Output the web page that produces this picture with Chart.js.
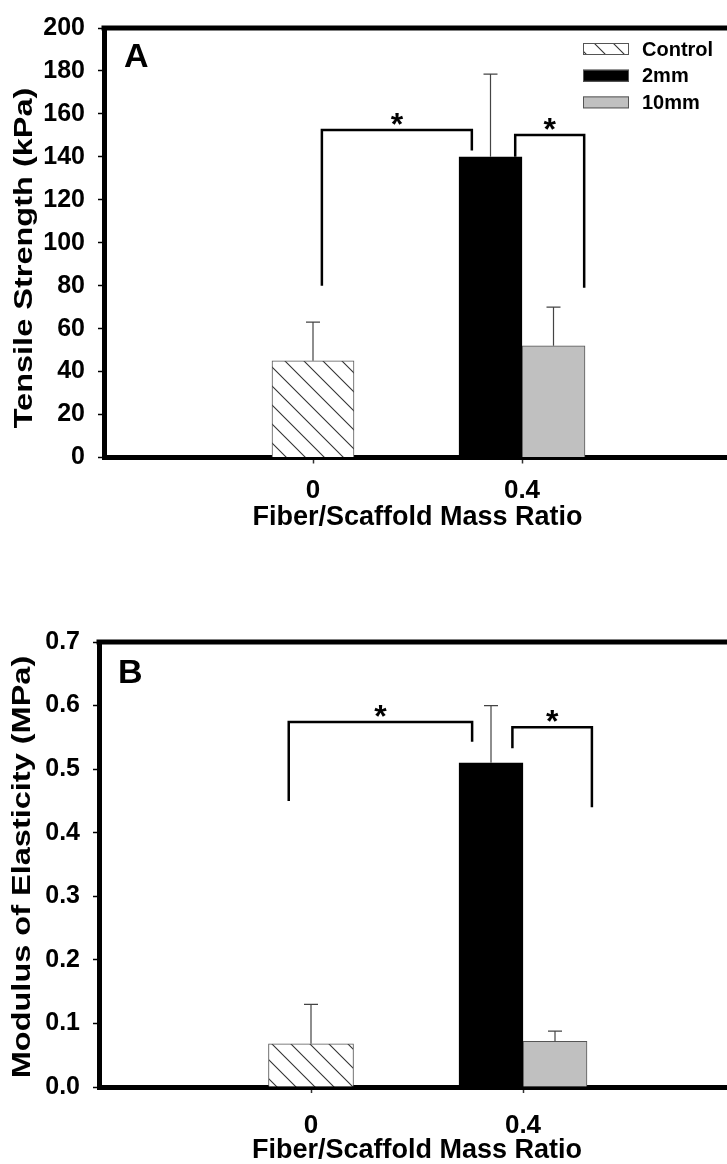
<!DOCTYPE html>
<html>
<head>
    <meta charset="UTF-8">
    <title>Tensile Strength and Modulus of Elasticity</title>
    <script src="https://cdn.jsdelivr.net/npm/chart.js"></script>
    <style>
        html, body {
            margin: 0;
            padding: 0;
            background: #fff;
            width: 727px;
            height: 1164px;
            overflow: hidden;
        }
        canvas {
            position: absolute;
            left: 0;
        }
        #chartA { top: 0; }
        #chartB { top: 582px; }
    </style>
</head>
<body>
    <canvas id="chartA" width="760" height="582"></canvas>
    <canvas id="chartB" width="760" height="582"></canvas>

    <script>
        // categories and series
        const ratioLabels = ['0', '0.4'];
        const seriesNames = ['Control', '2mm', '10mm'];

        // panel A: tensile strength (kPa)
        const strengthControl = [45, null];
        const strength2mm = [null, 140];
        const strength10mm = [null, 52];
        const strengthControlSd = [18, null];
        const strength2mmSd = [null, 38.5];
        const strength10mmSd = [null, 18];
        const strengthTicks = [0, 20, 40, 60, 80, 100, 120, 140, 160, 180, 200];
        // significance brackets: x in mass ratio units, heights in kPa
        const strengthBrackets = [
            { from: 0.017, to: 0.304, top: 152.5, legFrom: 80, legTo: 143 },
            { from: 0.387, to: 0.519, top: 150.2, legFrom: 140, legTo: 79 }
        ];

        // panel B: modulus of elasticity (MPa)
        const modulusControl = [0.068, null];
        const modulus2mm = [null, 0.51];
        const modulus10mm = [null, 0.072];
        const modulusControlSd = [0.062, null];
        const modulus2mmSd = [null, 0.09];
        const modulus10mmSd = [null, 0.016];
        const modulusTicks = [0, 0.1, 0.2, 0.3, 0.4, 0.5, 0.6, 0.7];
        const modulusBrackets = [
            { from: -0.042, to: 0.304, top: 0.574, legFrom: 0.45, legTo: 0.543 },
            { from: 0.380, to: 0.530, top: 0.566, legFrom: 0.533, legTo: 0.44 }
        ];

        const FONT = "'Liberation Sans', Arial, Helvetica, sans-serif";

        function hatchPattern() {
            const c = document.createElement('canvas');
            c.width = 19;
            c.height = 19;
            const g = c.getContext('2d');
            g.fillStyle = '#fff';
            g.fillRect(0, 0, 19, 19);
            g.strokeStyle = '#333';
            g.lineWidth = 1.1;
            g.beginPath();
            g.moveTo(-2, -2); g.lineTo(21, 21);
            g.moveTo(-2, 17); g.lineTo(2, 21);
            g.moveTo(17, -2); g.lineTo(21, 2);
            g.stroke();
            return g.createPattern(c, 'repeat');
        }

        const fills = [hatchPattern(), '#000', '#c0c0c0'];
        const borders = ['#555', '#000', '#555'];

        function ratioPixel(xs, r) {
            const r0 = parseFloat(ratioLabels[0]), r1 = parseFloat(ratioLabels[1]);
            const p0 = xs.getPixelForValue(1), p1 = xs.getPixelForValue(2);
            return p0 + (r - r0) / (r1 - r0) * (p1 - p0);
        }

        const frameTop = {
            id: 'frameTop',
            afterDraw(chart) {
                const { ctx, chartArea } = chart;
                ctx.save();
                ctx.strokeStyle = '#000';
                ctx.lineWidth = 5;
                ctx.beginPath();
                ctx.moveTo(chartArea.left - 2.5, chartArea.top);
                ctx.lineTo(chartArea.right + 2.5, chartArea.top);
                ctx.stroke();
                ctx.restore();
            }
        };

        const errorBars = {
            id: 'errorBars',
            afterDatasetsDraw(chart) {
                const { ctx, scales: { y } } = chart;
                ctx.save();
                ctx.strokeStyle = '#444';
                ctx.lineWidth = 1.2;
                chart.data.datasets.forEach((ds, i) => {
                    chart.getDatasetMeta(i).data.forEach((bar, j) => {
                        const v = ds.data[j], e = ds.sd[j];
                        if (v == null || e == null) return;
                        const yTop = y.getPixelForValue(v + e);
                        ctx.beginPath();
                        ctx.moveTo(bar.x, bar.y);
                        ctx.lineTo(bar.x, yTop);
                        ctx.moveTo(bar.x - 7, yTop);
                        ctx.lineTo(bar.x + 7, yTop);
                        ctx.stroke();
                    });
                });
                ctx.restore();
            }
        };

        const brackets = {
            id: 'brackets',
            afterDatasetsDraw(chart, args, opts) {
                const { ctx, scales: { x, y } } = chart;
                ctx.save();
                ctx.strokeStyle = '#000';
                ctx.lineWidth = 2.5;
                ctx.fillStyle = '#000';
                ctx.font = 'bold 32px ' + FONT;
                ctx.textAlign = 'center';
                ctx.textBaseline = 'alphabetic';
                (opts.items || []).forEach(b => {
                    const x1 = ratioPixel(x, b.from), x2 = ratioPixel(x, b.to);
                    const yt = y.getPixelForValue(b.top);
                    ctx.beginPath();
                    ctx.moveTo(x1, y.getPixelForValue(b.legFrom));
                    ctx.lineTo(x1, yt);
                    ctx.lineTo(x2, yt);
                    ctx.lineTo(x2, y.getPixelForValue(b.legTo));
                    ctx.stroke();
                    ctx.fillText('*', (x1 + x2) / 2, yt + 5);
                });
                ctx.restore();
            }
        };

        const boxLegend = {
            id: 'boxLegend',
            afterDraw(chart, args, opts) {
                if (!opts.show) return;
                const ctx = chart.ctx;
                ctx.save();
                ctx.font = 'bold 20px ' + FONT;
                ctx.textBaseline = 'middle';
                ctx.textAlign = 'left';
                chart.data.datasets.forEach((ds, i) => {
                    const cy = opts.top + i * opts.gap;
                    ctx.fillStyle = ds.backgroundColor;
                    ctx.fillRect(opts.x, cy - 6, 46, 12);
                    ctx.strokeStyle = '#555';
                    ctx.lineWidth = 1;
                    ctx.strokeRect(opts.x + 0.5, cy - 5.5, 45, 11);
                    ctx.fillStyle = '#000';
                    ctx.fillText(ds.label, opts.x + 59, cy + 1);
                });
                ctx.restore();
            }
        };

        const panelText = {
            id: 'panelText',
            afterDraw(chart, args, opts) {
                const { ctx, chartArea } = chart;
                ctx.save();
                ctx.fillStyle = '#000';
                ctx.font = 'bold 34px ' + FONT;
                ctx.textAlign = 'left';
                ctx.textBaseline = 'top';
                ctx.fillText(opts.letter, chartArea.left + opts.dx, chartArea.top + opts.dy);

                // rotated y title, stretched along its length
                ctx.translate(opts.titleX, opts.titleY);
                ctx.rotate(-Math.PI / 2);
                ctx.scale(1.25, 1);
                ctx.font = 'bold 26px ' + FONT;
                ctx.textAlign = 'center';
                ctx.textBaseline = 'middle';
                ctx.fillText(opts.title, 0, 0);
                ctx.restore();
            }
        };

        function buildChart(id, p) {
            const labels = ['', ...ratioLabels, ' '];
            const pad = arr => [null, ...arr, null];
            const datasets = p.values.map((vals, i) => ({
                label: seriesNames[i],
                data: pad(vals),
                sd: pad(p.sd[i]),
                backgroundColor: fills[i],
                borderColor: borders[i],
                borderWidth: 1,
                barThickness: p.thickness[i]
            }));

            return new Chart(document.getElementById(id), {
                type: 'bar',
                data: { labels, datasets },
                options: {
                    responsive: false,
                    animation: false,
                    events: [],
                    skipNull: true,
                    layout: { padding: { left: 0, top: p.top, right: p.right, bottom: 0 } },
                    plugins: {
                        legend: { display: false },
                        tooltip: { enabled: false },
                        brackets: { items: p.brackets },
                        boxLegend: p.legend,
                        panelText: p.panel
                    },
                    scales: {
                        x: {
                            type: 'category',
                            offset: false,
                            grid: {
                                offset: false,
                                drawOnChartArea: false,
                                drawTicks: true,
                                tickLength: 6,
                                tickWidth: 1.5,
                                tickColor: c => (c.index === 1 || c.index === 2) ? '#333' : 'rgba(0,0,0,0)'
                            },
                            border: { display: true, color: '#000', width: 5 },
                            ticks: {
                                color: '#000',
                                autoSkip: false,
                                maxRotation: 0,
                                padding: p.xTickPad,
                                font: { family: FONT, size: 26, weight: 'bold', lineHeight: 1 }
                            },
                            title: {
                                display: true,
                                text: 'Fiber/Scaffold Mass Ratio',
                                color: '#000',
                                padding: { top: 0, bottom: p.xTitlePad },
                                font: { family: FONT, size: 27, weight: 'bold', lineHeight: 1 }
                            },
                            afterFit: s => { s.height = p.xHeight; }
                        },
                        y: {
                            min: p.ticks[0],
                            max: p.ticks[p.ticks.length - 1],
                            afterBuildTicks: s => { s.ticks = p.ticks.map(v => ({ value: v })); },
                            grid: {
                                drawOnChartArea: false,
                                drawTicks: true,
                                tickLength: 6,
                                tickWidth: 1.5,
                                tickColor: '#000'
                            },
                            border: { display: true, color: '#000', width: 5 },
                            ticks: {
                                color: '#000',
                                padding: 13,
                                font: { family: FONT, size: 25, weight: 'bold' },
                                callback: v => p.tickFormat(v)
                            },
                            afterFit: s => { s.width = p.yWidth; }
                        }
                    }
                },
                plugins: [frameTop, errorBars, brackets, boxLegend, panelText]
            });
        }

        buildChart('chartA', {
            values: [strengthControl, strength2mm, strength10mm],
            sd: [strengthControlSd, strength2mmSd, strength10mmSd],
            ticks: strengthTicks,
            tickFormat: v => String(v),
            brackets: strengthBrackets,
            thickness: [82, 63, 63],
            top: 17,
            right: 29,
            yWidth: 104,
            xHeight: 124.5,
            xTickPad: 14,
            xTitlePad: 51,
            legend: { show: true, x: 583, top: 49, gap: 26.7 },
            panel: { letter: 'A', dx: 20, dy: 13, title: 'Tensile Strength (kPa)', titleX: 25, titleY: 258 }
        });

        buildChart('chartB', {
            values: [modulusControl, modulus2mm, modulus10mm],
            sd: [modulusControlSd, modulus2mmSd, modulus10mmSd],
            ticks: modulusTicks,
            tickFormat: v => v.toFixed(1),
            brackets: modulusBrackets,
            thickness: [85, 64, 64],
            top: 60,
            right: 25,
            yWidth: 99,
            xHeight: 77,
            xTickPad: 20,
            xTitlePad: 0,
            legend: { show: false },
            panel: { letter: 'B', dx: 19, dy: 15, title: 'Modulus of Elasticity (MPa)', titleX: 23, titleY: 285 }
        });
    </script>
</body>
</html>
